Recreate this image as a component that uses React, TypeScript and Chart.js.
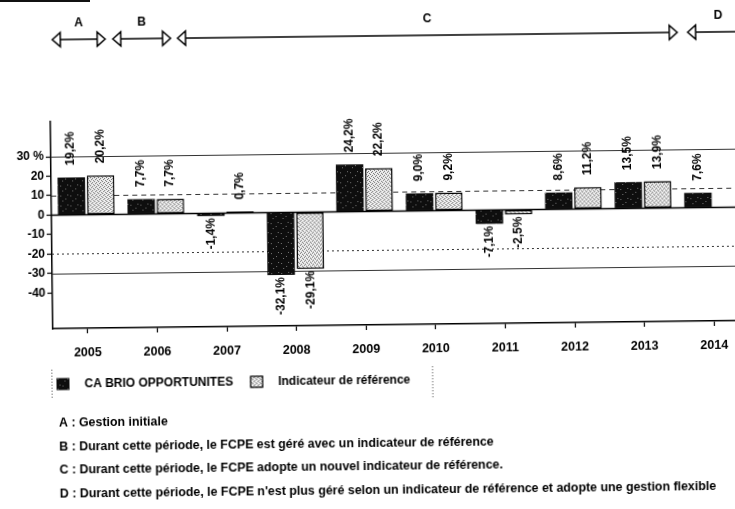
import React, { useEffect, useRef } from 'react';
import { Chart, registerables } from 'chart.js';

Chart.register(...registerables);

// ---------- data ----------
const years = ['2005', '2006', '2007', '2008', '2009', '2010', '2011', '2012', '2013', '2014'];
const fundValues: (number | null)[] = [19.2, 7.7, -1.4, -32.1, 24.2, 9.0, -7.1, 8.6, 13.5, 7.6];
const benchmarkValues: (number | null)[] = [20.2, 7.7, 0.7, -29.1, 22.2, 9.2, -2.5, 11.2, 13.9, null];
const seriesNames = ['CA BRIO OPPORTUNITES', 'Indicateur de référence'];
const yTickValues = [30, 20, 10, 0, -10, -20, -30, -40];
const yMin = -58.3;
const yMax = 48;
const refLineValues = [30, 10, -20, -30];
const periodLabels = ['A', 'B', 'C', 'D'];
// period spans, in category-index units (0 = 2005)
const periodStart = [-0.46, 0.41, 1.34, 8.67];
const periodEnd = [0.3, 1.24, 8.52, 9.55];
const notes = [
  'A : Gestion initiale',
  'B : Durant cette période, le FCPE est géré avec un indicateur de référence',
  'C : Durant cette période, le FCPE adopte un nouvel indicateur de référence.',
  "D : Durant cette période, le FCPE n'est plus géré selon un indicateur de référence et adopte une gestion flexible",
];

const FONT = '"Liberation Sans", Arial, Helvetica, sans-serif';

function makePattern(bg: string, dot: string, cells: number[][], size: number) {
  const c = document.createElement('canvas');
  c.width = size;
  c.height = size;
  const g = c.getContext('2d')!;
  g.fillStyle = bg;
  g.fillRect(0, 0, size, size);
  g.fillStyle = dot;
  cells.forEach(([x, y]) => g.fillRect(x, y, 1, 1));
  return g.createPattern(c, 'repeat')!;
}

function dashFor(v: number): number[] {
  if (v === 10) return [5, 4];
  if (v === -20) return [2, 3];
  return [];
}

function fmt(v: number) {
  return v.toFixed(1).replace('.', ',') + '%';
}

export default function App() {
  const ref = useRef<HTMLCanvasElement>(null);

  useEffect(() => {
    const canvas = ref.current!;
    const darkFill = makePattern('#0e0e0e', '#777', [[1, 2], [6, 5], [3, 7], [8, 1]], 10);
    const lightFill = makePattern('#f0f0f0', '#6e6e6e', [[0, 0], [2, 1], [1, 3], [3, 2]], 4);

    const decor = {
      id: 'decor',
      beforeDatasetsDraw(chart: any) {
        const { ctx, chartArea: a, scales } = chart;
        const y = scales.y;
        ctx.save();
        refLineValues.forEach((v) => {
          const py = Math.round(y.getPixelForValue(v)) + 0.5;
          ctx.setLineDash(dashFor(v));
          ctx.strokeStyle = '#333';
          ctx.lineWidth = 1;
          ctx.beginPath();
          ctx.moveTo(a.left, py);
          ctx.lineTo(a.right, py);
          ctx.stroke();
        });
        ctx.setLineDash([]);
        ctx.strokeStyle = '#000';
        ctx.lineWidth = 1.5;
        const z = y.getPixelForValue(0);
        ctx.beginPath();
        ctx.moveTo(a.left, z);
        ctx.lineTo(a.right, z);
        ctx.stroke();
        ctx.restore();
      },
      afterDatasetsDraw(chart: any) {
        const { ctx } = chart;
        ctx.save();
        ctx.font = `bold 12px ${FONT}`;
        ctx.fillStyle = '#000';
        ctx.textBaseline = 'middle';
        chart.data.datasets.forEach((ds: any, di: number) => {
          const meta = chart.getDatasetMeta(di);
          meta.data.forEach((el: any, i: number) => {
            const v = ds.data[i];
            if (v === null || v === undefined) return;
            ctx.save();
            if (v >= 0) {
              ctx.translate(el.x, el.y - 12);
              ctx.rotate(-Math.PI / 2);
              ctx.textAlign = 'left';
            } else {
              ctx.translate(el.x, el.y + 2);
              ctx.rotate(-Math.PI / 2);
              ctx.textAlign = 'right';
            }
            ctx.fillText(fmt(v), 0, 0);
            ctx.restore();
          });
        });
        ctx.restore();
      },
      afterDraw(chart: any) {
        const { ctx, scales } = chart;
        const xs = scales.x;
        const x0 = xs.getPixelForValue(0);
        const step = xs.getPixelForValue(1) - x0;
        ctx.save();
        // period arrows
        const ay = 36;
        const hl = 8;
        const hh = 7;
        ctx.strokeStyle = '#000';
        ctx.lineWidth = 1.5;
        ctx.font = `bold 12px ${FONT}`;
        ctx.fillStyle = '#000';
        ctx.textAlign = 'center';
        ctx.textBaseline = 'middle';
        periodLabels.forEach((lab, i) => {
          const xa = x0 + periodStart[i] * step;
          const xb = x0 + periodEnd[i] * step;
          ctx.beginPath();
          ctx.moveTo(xa + hl, ay);
          ctx.lineTo(xb - hl, ay);
          ctx.stroke();
          ctx.fillStyle = '#fff';
          ctx.beginPath();
          ctx.moveTo(xa, ay);
          ctx.lineTo(xa + hl, ay - hh);
          ctx.lineTo(xa + hl, ay + hh);
          ctx.closePath();
          ctx.fill();
          ctx.stroke();
          ctx.beginPath();
          ctx.moveTo(xb, ay);
          ctx.lineTo(xb - hl, ay - hh);
          ctx.lineTo(xb - hl, ay + hh);
          ctx.closePath();
          ctx.fill();
          ctx.stroke();
          ctx.fillStyle = '#000';
          ctx.fillText(lab, (xa + xb) / 2, 19.5);
        });

        // legend
        const ly = 380.5;
        ctx.textAlign = 'left';
        ctx.textBaseline = 'middle';
        ctx.font = `bold 12px ${FONT}`;
        let lx = 55;
        const ds = chart.data.datasets;
        ds.forEach((d: any) => {
          ctx.fillStyle = d.backgroundColor;
          ctx.fillRect(lx, ly - 6, 13, 12);
          if (d.borderWidth) {
            ctx.strokeStyle = '#000';
            ctx.lineWidth = 1.2;
            ctx.strokeRect(lx + 0.5, ly - 5.5, 12, 11);
          }
          ctx.fillStyle = '#000';
          ctx.fillText(d.label, lx + 28, ly);
          lx = lx + 28 + ctx.measureText(d.label).width + 17;
        });
        ctx.strokeStyle = '#444';
        ctx.lineWidth = 1;
        ctx.setLineDash([1, 2]);
        ctx.beginPath();
        ctx.moveTo(50.5, 366);
        ctx.lineTo(50.5, 396);
        ctx.moveTo(lx + 5.5, 367);
        ctx.lineTo(lx + 5.5, 398);
        ctx.stroke();
        ctx.setLineDash([]);

        // notes
        ctx.font = `bold 12.4px ${FONT}`;
        ctx.fillStyle = '#000';
        notes.forEach((n, i) => {
          ctx.fillText(n, 57, 420 + i * 23.5);
        });
        ctx.restore();
      },
    };

    const chart = new Chart(canvas, {
      type: 'bar',
      data: {
        labels: years,
        datasets: [
          {
            label: seriesNames[0],
            data: fundValues,
            backgroundColor: darkFill as any,
            borderWidth: 0,
            categoryPercentage: 0.84,
            barPercentage: 0.94,
          },
          {
            label: seriesNames[1],
            data: benchmarkValues,
            backgroundColor: lightFill as any,
            borderColor: '#000',
            borderWidth: 1.5,
            borderSkipped: false,
            categoryPercentage: 0.84,
            barPercentage: 0.94,
          },
        ],
      },
      options: {
        responsive: false,
        animation: false,
        events: [],
        layout: { padding: { top: 118, right: 12, left: 0, bottom: 0 } },
        plugins: {
          legend: { display: false },
          tooltip: { enabled: false },
          title: { display: false },
        },
        scales: {
          x: {
            afterFit: (s: any) => {
              s.height = 184;
            },
            grid: {
              drawOnChartArea: false,
              drawTicks: true,
              tickLength: 5,
              offset: false,
              color: '#000',
              tickColor: '#000',
              tickWidth: 1.2,
            },
            border: { display: true, color: '#000', width: 1.5 },
            ticks: {
              color: '#000',
              font: { family: FONT, size: 12.5, weight: 'bold' },
              padding: 12,
              maxRotation: 0,
              autoSkip: false,
            },
          },
          y: {
            min: yMin,
            max: yMax,
            afterFit: (s: any) => {
              s.width = 52;
            },
            afterBuildTicks: (s: any) => {
              s.ticks = yTickValues.map((v) => ({ value: v }));
            },
            grid: {
              drawOnChartArea: false,
              drawTicks: true,
              tickLength: 5,
              color: '#000',
              tickColor: '#000',
              tickWidth: 1.2,
            },
            border: { display: true, color: '#000', width: 1.5 },
            ticks: {
              color: '#000',
              font: { family: FONT, size: 12, weight: 'bold' },
              padding: 2,
              callback: (v: any) => (Number(v) === 30 ? '30 %' : String(v)),
            },
          },
        },
      },
      plugins: [decor],
    });
    return () => chart.destroy();
  }, []);

  return (
    <div
      style={{
        position: 'fixed',
        left: 0,
        top: 0,
        width: 735,
        height: 509,
        overflow: 'hidden',
        background: '#fff',
      }}
    >
      <div style={{ position: 'absolute', left: 0, top: 0, width: 90, height: 2, background: '#111' }} />
      <div
        style={{
          position: 'absolute',
          left: 0,
          top: 0,
          width: 760,
          height: 509,
          transform: 'rotate(-0.67deg)',
          transformOrigin: '367px 254px',
        }}
      >
        <canvas ref={ref} width={760} height={509} style={{ display: 'block', width: 760, height: 509 }} />
      </div>
    </div>
  );
}
